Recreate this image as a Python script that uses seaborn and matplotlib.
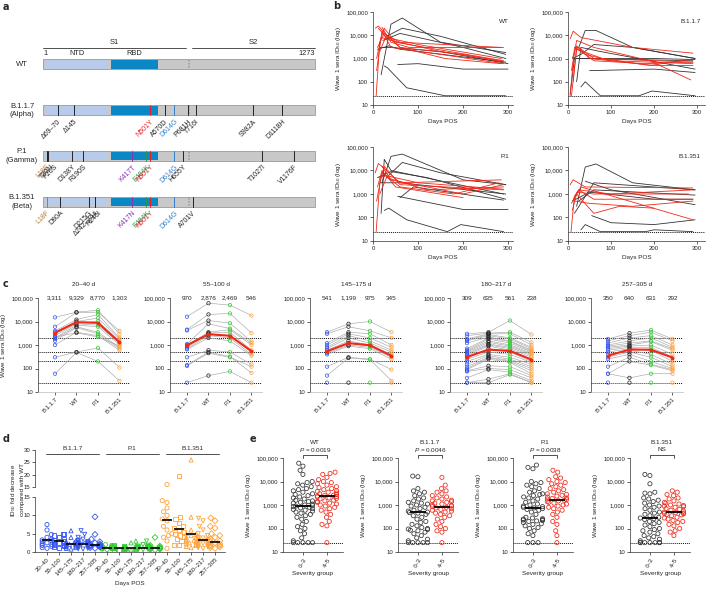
import numpy as np
import pandas as pd
import matplotlib
matplotlib.use("Agg")
import matplotlib.pyplot as plt
from matplotlib.patches import Rectangle
from matplotlib.ticker import NullLocator
import seaborn as sns

# ---------------- data ----------------
# panel a: spike protein and variant mutations
spike_len = 1273
ntd_span = (14, 305)
rbd_span = (319, 541)
s1s2_site = 685
strain_names = ['WT', 'B.1.1.7\n(Alpha)', 'P.1\n(Gamma)', 'B.1.351\n(Beta)']
mut_b117_pos = [69.5, 144, 501, 570, 614, 681, 716, 982, 1118]
mut_b117_lab = ['Δ69–70', 'Δ145', 'N501Y', 'A570D', 'D614G', 'P681H', 'T716I', 'S982A', 'D1118H']
mut_p1_pos = [18, 20, 26, 138, 190, 417, 484, 501, 614, 655, 1027, 1176]
mut_p1_lab = ['L18F', 'T20N', 'P26S', 'D138Y', 'R190S', 'K417T', 'E484K', 'N501Y', 'D614G', 'H655Y',
              'T1027I', 'V1176F']
mut_b1351_pos = [18, 80, 215, 243, 246, 417, 484, 501, 614, 701]
mut_b1351_lab = ['L18F', 'D80A', 'D215G', 'Δ242–244', 'R246I', 'K417N', 'E484K', 'N501Y', 'D614G', 'A701V']

# panel b: longitudinal titres (days POS, ID50); black = mild, red = severe
b_wt_mild = [
    ([18, 40, 65, 150, 295], [200, 30000, 55000, 5000, 1800]),
    ([30, 65, 150, 295], [9000, 20000, 9000, 1500]),
    ([22, 60, 200, 295], [6000, 12000, 3000, 1000]),
    ([10, 35, 60, 295], [2500, 3500, 2500, 700]),
    ([55, 100, 200, 300], [550, 600, 350, 350]),
    ([25, 32, 75, 160, 295], [480, 400, 55, 25, 25]),
    ([15, 40, 150, 300], [3000, 3000, 2000, 600]),
]
b_wt_severe = [
    ([5, 12, 30, 60, 285], [20000, 25000, 10000, 5000, 3000]),
    ([7, 15, 25, 50, 290], [25, 5000, 20000, 5000, 800]),
    ([8, 20, 40, 150, 290], [300, 15000, 3000, 1500, 600]),
    ([10, 25, 60, 200, 290], [3000, 12000, 3000, 1500, 700]),
    ([12, 30, 100, 285], [20000, 8000, 4000, 1000]),
    ([8, 18, 40, 150, 285], [1000, 8000, 6000, 2000, 800]),
    ([20, 40, 80, 290], [22000, 5000, 3000, 3000]),
    ([15, 30, 60, 160, 285], [2000, 10000, 3000, 1000, 600]),
]
b_b117_mild = [
    ([25, 40, 65, 150, 295], [3000, 16000, 16000, 3000, 1000]),
    ([30, 40, 75, 165, 195, 295], [60, 100, 25, 25, 40, 25]),
    ([10, 30, 60, 150, 295], [1000, 1500, 4000, 3000, 1000]),
    ([15, 60, 200, 295], [1000, 1000, 1000, 900]),
    ([50, 200, 295], [300, 350, 250]),
    ([20, 30, 75, 295], [100, 3000, 2000, 350]),
    ([5, 15, 30, 290], [30, 1000, 1000, 800]),
]
b_b117_severe = [
    ([5, 12, 30, 150, 290], [7000, 15000, 8000, 3000, 1700]),
    ([5, 15, 25, 60, 290], [25, 3000, 3000, 1000, 700]),
    ([8, 20, 60, 190, 285], [300, 6000, 3000, 800, 120]),
    ([10, 20, 50, 200, 290], [1000, 3500, 1000, 500, 500]),
    ([12, 20, 60, 180, 290], [100, 3000, 800, 600, 700]),
    ([15, 40, 100, 290], [3000, 1500, 800, 600]),
    ([8, 20, 80, 190, 280], [25, 2500, 1000, 500, 900]),
]
b_p1_mild = [
    ([20, 40, 65, 200, 295], [3000, 40000, 50000, 4000, 2500]),
    ([30, 65, 150, 295], [5000, 22000, 8000, 2500]),
    ([18, 25, 40, 290], [150, 30000, 10000, 1000]),
    ([10, 40, 120, 295], [5000, 9000, 5000, 600]),
    ([55, 200, 300], [800, 220, 220]),
    ([25, 35, 75, 165, 195, 290], [200, 250, 80, 25, 50, 25]),
    ([60, 90, 290], [700, 2000, 550]),
    ([15, 60, 295], [3000, 3000, 1000]),
]
b_p1_severe = [
    ([5, 12, 30, 60, 285], [8000, 20000, 10000, 3000, 4000]),
    ([7, 15, 25, 60, 290], [25, 3000, 15000, 2500, 1500]),
    ([10, 20, 50, 200], [2000, 10000, 2000, 700]),
    ([12, 30, 100, 290], [5000, 6000, 3000, 1600]),
    ([15, 30, 120, 290], [1000, 5000, 1500, 2000]),
    ([8, 20, 60, 180, 280], [500, 8000, 2000, 1000, 3000]),
    ([20, 40, 200, 290], [15000, 4000, 1000, 2500]),
]
b_b1351_mild = [
    ([20, 40, 65, 150, 295], [300, 14000, 19000, 3000, 1500]),
    ([30, 40, 75, 180, 200, 290], [30, 50, 25, 25, 30, 25]),
    ([15, 60, 295], [150, 3000, 1500]),
    ([40, 100, 295], [3500, 1500, 350]),
    ([55, 100, 200, 295], [120, 60, 50, 80]),
    ([25, 60, 295], [500, 1500, 900]),
    ([10, 50, 200, 290], [500, 1200, 600, 600]),
]
b_b1351_severe = [
    ([5, 12, 40, 290], [2500, 4000, 2000, 1800]),
    ([7, 15, 25, 60, 290], [25, 800, 1500, 600, 600]),
    ([8, 30, 290], [400, 2000, 80]),
    ([10, 20, 60, 120, 200], [200, 1000, 150, 300, 250]),
    ([12, 25, 100, 290], [600, 1500, 1000, 1500]),
    ([15, 50, 150, 290], [500, 400, 300, 500]),
    ([20, 60, 280], [1200, 1000, 1000]),
]

# panel c: paired titres per participant [B.1.1.7, WT, P.1, B.1.351]
c_variants = ['B.1.1.7', 'WT', 'P.1', 'B.1.351']
c_titles = ['20–40 d', '55–100 d', '145–175 d', '180–217 d', '257–305 d']
c_gmt = [[3311, 9329, 8770, 1303], [970, 2876, 2469, 546], [541, 1199, 975, 345],
         [309, 635, 561, 238], [350, 640, 631, 292]]
c_d20 = [
    [15000, 25000, 30000, 3000], [6000, 24000, 25000, 4000], [4000, 12000, 20000, 2000],
    [3500, 10000, 14000, 1800], [3000, 9000, 10000, 1500], [2500, 8000, 7000, 1200],
    [2000, 7000, 6000, 1000], [1800, 6000, 3500, 800], [1500, 5500, 3000, 700],
    [1000, 3500, 2500, 600], [2200, 3300, 2200, 900], [300, 500, 750, 110], [60, 480, 200, 30],
]
c_d55 = [
    [16000, 60000, 50000, 18000], [4500, 20000, 22000, 3200], [4200, 11000, 8500, 1400],
    [1100, 8000, 5000, 1200], [1000, 3500, 4500, 1000], [900, 3200, 3500, 600],
    [800, 3000, 2500, 500], [700, 2500, 2000, 400], [650, 2000, 1500, 350],
    [300, 600, 500, 150], [130, 450, 300, 120], [25, 50, 75, 25], [140, 500, 320, 65],
]
c_d145 = [
    [3500, 8000, 10000, 3500], [3000, 6000, 4000, 2000], [1200, 3500, 3000, 1000],
    [1000, 3000, 2000, 800], [800, 2500, 1500, 600], [700, 2000, 1200, 500],
    [600, 1500, 1000, 400], [500, 1200, 900, 350], [450, 1000, 800, 300],
    [400, 900, 700, 250], [120, 300, 250, 90], [50, 280, 240, 30], [25, 25, 25, 25],
]
c_d180 = [
    [3000, 3500, 11000, 2800], [2500, 3200, 3500, 1300], [1800, 3000, 3000, 1000],
    [1600, 2800, 2000, 800], [1500, 2500, 1800, 700], [1200, 2200, 1500, 600],
    [700, 2000, 1400, 550], [600, 1800, 1200, 500], [550, 1500, 1000, 450],
    [500, 1300, 900, 400], [450, 1100, 800, 350], [400, 1000, 700, 300],
    [350, 900, 600, 250], [300, 700, 500, 200], [250, 500, 400, 180],
    [200, 400, 300, 150], [150, 350, 250, 120], [120, 300, 220, 100],
    [100, 280, 200, 80], [90, 250, 180, 60], [80, 130, 120, 50], [75, 100, 90, 40],
    [40, 90, 70, 30], [25, 35, 60, 25], [25, 25, 55, 25],
]
c_d257 = [
    [1800, 3200, 4300, 1800], [1500, 2500, 3500, 1500], [1200, 2000, 2500, 1000],
    [1000, 1500, 2000, 800], [900, 1200, 1500, 700], [800, 1000, 1400, 600],
    [700, 900, 1000, 400], [600, 800, 800, 300], [500, 700, 600, 200],
    [400, 600, 400, 150], [300, 500, 300, 120], [250, 400, 200, 100],
    [120, 300, 150, 90], [60, 200, 140, 80], [60, 40, 60, 60], [25, 25, 25, 25],
]

# panel d: fold decrease vs WT
d_days = ['20–40', '55–100', '145–175', '180–217', '257–305']
d_b117 = [
    [7.5, 6, 4.8, 4, 3.5, 3.3, 3, 2.8, 2.5, 2.2, 2, 1.8, 1.5, 1.2, 1],
    [5, 4.8, 4.5, 4, 3.5, 3.2, 3, 2.8, 2.6, 2.4, 2.2, 2, 1.8, 1.6, 1.4, 1.2],
    [5.8, 4, 3, 2.8, 2.6, 2.4, 2.3, 2.2, 2.1, 2, 1.8, 1.6, 1.4, 1.2, 1, 0.8],
    [5.8, 4.8, 4, 3.5, 3.2, 3, 2.8, 2.7, 2.6, 2.5, 2.4, 2.3, 2.2, 2.1, 2, 1.8, 1.6, 1.5,
     1.4, 1.2, 1, 0.9, 0.8],
    [9.6, 4.8, 3.5, 2.8, 2.5, 2.2, 2, 1.9, 1.8, 1.7, 1.6, 1.5, 1.4, 1.2, 1],
]
d_p1 = [
    [2, 1.8, 1.6, 1.5, 1.4, 1.3, 1.3, 1.2, 1.2, 1.1, 1.0, 1.0, 0.9, 0.8, 0.7],
    [1.8, 1.6, 1.5, 1.4, 1.3, 1.3, 1.2, 1.2, 1.1, 1.1, 1.0, 1.0, 0.9, 0.8, 0.7, 0.6],
    [3, 2.5, 1.8, 1.5, 1.3, 1.2, 1.2, 1.1, 1.1, 1.0, 0.9, 0.8, 0.7, 0.6],
    [3, 2, 1.8, 1.6, 1.5, 1.4, 1.4, 1.3, 1.3, 1.2, 1.2, 1.1, 1.1, 1.0, 1.0, 0.9, 0.9,
     0.8, 0.7, 0.6],
    [4, 1.8, 1.6, 1.4, 1.3, 1.2, 1.1, 1.1, 1.0, 1.0, 0.9, 0.8, 0.7, 0.6],
]
d_b1351 = [
    [16, 14, 13.5, 12, 11, 10, 9, 8.5, 7, 6, 5, 4.5, 4, 3, 1],
    [19.5, 9.5, 9, 8, 7, 6.5, 6, 5.5, 5, 4.5, 4, 3.5, 3, 2, 1.8],
    [26, 9.5, 6, 5, 4.8, 4.5, 4, 3.8, 3.5, 3.2, 3, 2.8, 2.5, 2.2, 2, 1.8, 1.5, 1.2],
    [9.2, 8.5, 7, 6, 5, 4.5, 4, 3.8, 3.5, 3.3, 3.2, 3.1, 3, 2.8, 2.6, 2.4, 2.2, 2, 1.8,
     1.6, 1.4, 1.2, 1],
    [9.3, 8.5, 7, 6.5, 5, 4.5, 4, 3.5, 3, 2.8, 2.5, 2.2, 2, 1.8, 1.6, 1.4, 1.2, 1],
]
d_med_b117 = [3.3, 3.0, 2.3, 2.3, 2.0]
d_med_p1 = [1.2, 1.1, 1.1, 1.1, 1.1]
d_med_b1351 = [8.8, 6.2, 4.8, 3.2, 2.8]

# panel e: titres by severity group
e_titles = ['WT', 'B.1.1.7', 'P.1', 'B.1.351']
e_pvals = ['0.0019', '0.0046', '0.0038', 'NS']
e_mean_03 = [900, 480, 750, 280]
e_mean_45 = [2500, 830, 1700, 500]
e_wt_03 = [60000, 45000, 30000, 20000, 10000, 9000, 8000, 7000, 6000, 5000, 4500, 4000, 3500,
           3000, 2800, 2500, 2200, 2000, 1800, 1600, 1500, 1400, 1300, 1200, 1100, 1000, 950,
           900, 850, 800, 750, 700, 650, 600, 550, 500, 450, 400, 350, 300, 250, 200, 150, 120,
           100, 80, 60, 40, 30, 25, 25, 25, 25, 25]
e_wt_45 = [25000, 22000, 20000, 15000, 12000, 10000, 9000, 8000, 7000, 6000, 5500, 5000, 4500,
           4000, 3800, 3500, 3200, 3000, 2800, 2600, 2500, 2400, 2300, 2200, 2000, 1900, 1800,
           1600, 1500, 1400, 1300, 1200, 1100, 1000, 900, 800, 700, 600, 500, 400, 300, 200,
           150, 130, 25]
e_b117_03 = [17000, 16000, 5000, 4000, 3500, 3000, 2500, 2000, 1800, 1500, 1300, 1200, 1100,
             1000, 900, 800, 700, 600, 550, 500, 480, 450, 400, 350, 300, 250, 200, 180, 150,
             130, 110, 100, 95, 90, 85, 80, 70, 60, 50, 40, 35, 30, 25, 25, 25, 25, 25]
e_b117_45 = [15000, 7000, 5000, 4000, 3500, 3000, 2500, 2200, 2000, 1800, 1600, 1500, 1400,
             1300, 1200, 1100, 1000, 950, 900, 850, 800, 750, 700, 650, 600, 550, 500, 450,
             400, 350, 300, 250, 200, 150, 120, 100, 80, 70, 25]
e_p1_03 = [50000, 40000, 35000, 10000, 9000, 8000, 7000, 6000, 5000, 4000, 3500, 3000, 2800,
           2500, 2200, 2000, 1800, 1500, 1300, 1100, 1000, 900, 850, 800, 750, 700, 650, 600,
           500, 400, 300, 280, 260, 250, 240, 230, 220, 210, 200, 180, 160, 150, 130, 110, 100,
           80, 60, 50, 25, 25, 25]
e_p1_45 = [30000, 25000, 16000, 14000, 12000, 10000, 9000, 8000, 7000, 6000, 5000, 4500, 4000,
           3500, 3000, 2800, 2600, 2400, 2200, 2000, 1900, 1800, 1700, 1600, 1500, 1400, 1300,
           1200, 1100, 1000, 900, 800, 700, 600, 500, 400, 300, 200, 150, 80, 50, 25]
e_b1351_03 = [20000, 18000, 8000, 3500, 3200, 3000, 2000, 1800, 1600, 1400, 1200, 1000, 900,
              800, 700, 600, 500, 450, 400, 350, 300, 280, 260, 240, 200, 180, 160, 140, 120,
              100, 90, 80, 70, 60, 50, 45, 40, 35, 30, 25, 25, 25, 25, 25, 25, 25]
e_b1351_45 = [4000, 3500, 2800, 2500, 2000, 1800, 1500, 1300, 1200, 1100, 1000, 950, 900, 850,
              800, 700, 650, 600, 550, 500, 480, 460, 440, 420, 400, 380, 350, 300, 280, 250,
              220, 200, 180, 150, 130, 100, 80, 70, 50]

# ---------------- style ----------------
sns.set_style('ticks')
plt.rcParams['font.family'] = ['Liberation Sans', 'DejaVu Sans']
plt.rcParams['font.size'] = 4.5
plt.rcParams['mathtext.fontset'] = 'custom'
plt.rcParams['mathtext.rm'] = 'Liberation Sans'
plt.rcParams['mathtext.it'] = 'Liberation Sans:italic'
plt.rcParams['axes.linewidth'] = 0.5

BLUE, GREEN, ORANGE, RED, DARK = '#3355ee', '#33cc33', '#ffa33a', '#f02818', '#222222'
FS = 4.3
W, H = 707, 594
fig = plt.figure(figsize=(W / 100, H / 100), dpi=100)


def px_axes(x0, y0, x1, y1):
    return fig.add_axes([x0 / W, 1 - y1 / H, (x1 - x0) / W, (y1 - y0) / H])


def style(ax):
    for s in ['top', 'right']:
        ax.spines[s].set_visible(False)
    for s in ['left', 'bottom']:
        ax.spines[s].set_linewidth(0.5)
        ax.spines[s].set_color('#333333')
    ax.tick_params(length=2, width=0.5, pad=1.5, labelsize=FS, colors='#222222')


def log_axis(ax):
    ax.set_yscale('log')
    ax.set_ylim(10, 1e5)
    ax.set_yticks([10, 100, 1e3, 1e4, 1e5])
    ax.set_yticklabels(['10', '100', '1,000', '10,000', '100,000'])
    ax.yaxis.set_minor_locator(NullLocator())


def hollow(ax, start, lw=0.5):
    for coll in ax.collections[start:]:
        fc = coll.get_facecolor()
        if len(fc):
            coll.set_edgecolor(fc)
            coll.set_facecolor('none')
            coll.set_linewidth(lw)


YLAB = 'Wave 1 sera ID$_{50}$ (log)'

# ---------------- panel a ----------------
PX_PER_AA = 272 / 1272
FS_A = 5.0


def px2aa(p):
    return 1 + (p - 43) / PX_PER_AA


axa = px_axes(0, 30, 330, 235)
axa.set_xlim(px2aa(0), px2aa(330))
axa.set_ylim(235, 30)
axa.axis('off')


def mut_color(lab):
    if 'N501Y' in lab:
        return '#e8202a'
    if 'D614G' in lab:
        return '#2f80d0'
    if 'L18F' in lab:
        return '#b87530'
    if 'K417' in lab:
        return '#8a35b5'
    if 'E484K' in lab:
        return '#229a50'
    return '#222222'


def draw_spike(y):
    axa.add_patch(Rectangle((1, y - 5), spike_len - 1, 10, fc='#c8c8c8', ec='#9a9a9a', lw=0.6))
    axa.add_patch(Rectangle((ntd_span[0], y - 4.2), ntd_span[1] - ntd_span[0], 8.4, fc='#b9cbea', ec='none'))
    axa.add_patch(Rectangle((rbd_span[0], y - 4.2), rbd_span[1] - rbd_span[0], 8.4, fc='#0b88c3', ec='none'))
    axa.plot([s1s2_site, s1s2_site], [y - 4.2, y + 4.2], color='#a0a0a0', lw=1.2, ls=(0, (1, 0.8)))


row_y = [64.5, 110.5, 156, 202]
muts = [([], []), (mut_b117_pos, mut_b117_lab), (mut_p1_pos, mut_p1_lab), (mut_b1351_pos, mut_b1351_lab)]
for y, name, (pos, labs) in zip(row_y, strain_names, muts):
    draw_spike(y)
    axa.text(px2aa(22), y, name, ha='center', va='center', fontsize=5.5, linespacing=1.3)
    prev = -1e9
    for p, lab in zip(pos, labs):
        c = mut_color(lab)
        axa.plot([p, p], [y - 5, y + 5], color=c, lw=0.7)
        xl = max(p, prev + 18)
        prev = xl
        axa.text(xl, y + 7.5, lab, rotation=45, ha='right', va='top', rotation_mode='anchor',
                 fontsize=FS_A, color=c)

# domain annotation
axa.plot([1, 672], [48, 48], color='#333333', lw=0.6)
axa.plot([700, spike_len], [48, 48], color='#333333', lw=0.6)
axa.text(336, 42.5, 'S1', ha='center', va='center', fontsize=5.5)
axa.text(986, 42.5, 'S2', ha='center', va='center', fontsize=5.5)
axa.text(1, 54, '1', ha='left', va='center', fontsize=5.3)
axa.text(160, 54, 'NTD', ha='center', va='center', fontsize=5.3)
axa.text(430, 54, 'RBD', ha='center', va='center', fontsize=5.3)
axa.text(spike_len, 54, '1273', ha='right', va='center', fontsize=5.3)


# ---------------- panel b ----------------
def lines_df(mild, severe):
    rows = []
    for grp, lines in [('mild', mild), ('severe', severe)]:
        for i, (days, vals) in enumerate(lines):
            for d, v in zip(days, vals):
                rows.append((f'{grp}{i}', grp, d, v))
    return pd.DataFrame(rows, columns=['id', 'grp', 'day', 'titer'])


b_sets = [('WT', b_wt_mild, b_wt_severe, (373, 12, 513, 105), 311),
          ('B.1.1.7', b_b117_mild, b_b117_severe, (568, 12, 705, 105), 318),
          ('P.1', b_p1_mild, b_p1_severe, (373, 147, 513, 241), 311),
          ('B.1.351', b_b1351_mild, b_b1351_severe, (568, 147, 705, 241), 318)]
for name, mild, severe, box, xmax in b_sets:
    ax = px_axes(*box)
    log_axis(ax)
    df = lines_df(mild, severe)
    sns.lineplot(data=df, x='day', y='titer', units='id', estimator=None, hue='grp',
                 palette={'mild': '#333333', 'severe': RED}, lw=0.6, legend=False, ax=ax)
    ax.axhline(25, color='#111111', lw=0.7, ls=(0, (1, 1)))
    ax.set_xlim(0, xmax)
    ax.set_xticks([0, 100, 200, 300])
    ax.set_xlabel('Days POS', fontsize=4.6, labelpad=3)
    ax.set_ylabel(YLAB, fontsize=4.6, labelpad=2)
    ax.text(0.97, 0.9, name, transform=ax.transAxes, ha='right', va='center', fontsize=4.6)
    style(ax)

# ---------------- panel c ----------------
c_sets = [c_d20, c_d55, c_d145, c_d180, c_d257]
c_lefts = [38, 170, 310, 450, 591]
c_colors = [BLUE, DARK, GREEN, ORANGE]
for k, (rows, left) in enumerate(zip(c_sets, c_lefts)):
    ax = px_axes(left, 298, left + 92, 392)
    log_axis(ax)
    recs = []
    for i, r in enumerate(rows):
        for j, v in enumerate(r):
            recs.append((i, j, c_variants[j], v))
    dfc = pd.DataFrame(recs, columns=['id', 'x', 'variant', 'titer'])
    for lv in [2000, 500, 200, 25]:
        ax.axhline(lv, color='#111111', lw=0.7, ls=(0, (1, 1)), zorder=1)
    sns.lineplot(data=dfc, x='x', y='titer', units='id', estimator=None, color='#a8a8a8',
                 lw=0.45, ax=ax, zorder=2)
    n0 = len(ax.collections)
    sns.scatterplot(data=dfc, x='x', y='titer', hue='variant', palette=dict(zip(c_variants, c_colors)),
                    s=6, ax=ax, legend=False, zorder=3)
    hollow(ax, n0)
    sns.lineplot(x=[0, 1, 2, 3], y=c_gmt[k], color=RED, lw=1.5, marker='o', markersize=2.8,
                 markeredgewidth=0, ax=ax, zorder=4)
    for j, v in enumerate(c_gmt[k]):
        ax.text(j, 1e5, f'{v:,}', ha='center', va='center', fontsize=4.6)
    ax.text(0.5, 1 + 13 / 94, c_titles[k], transform=ax.transAxes, ha='center', va='center',
            fontsize=4.6)
    ax.set_xlim(-0.79, 3.49)
    ax.set_xticks(range(4))
    ax.set_xticklabels(c_variants, rotation=45, ha='right', rotation_mode='anchor')
    ax.set_xlabel('')
    ax.set_ylabel(YLAB if k == 0 else '', fontsize=4.6, labelpad=2)
    style(ax)
    ax.spines['bottom'].set_color('#bbbbbb')

# ---------------- panel d ----------------
d_groups = [('B.1.1.7', d_b117, BLUE), ('P.1', d_p1, GREEN), ('B.1.351', d_b1351, ORANGE)]
d_markers = ['o', 's', '^', 'v', 'D']
recs = []
order = []
for g, sets, _ in d_groups:
    for di, vals in enumerate(sets):
        key = f'{g}|{d_days[di]}'
        order.append(key)
        for v in vals:
            recs.append((key, g, di, v))
dfd = pd.DataFrame(recs, columns=['key', 'variant', 'day', 'fold'])
pal_d = {g: c for g, _, c in d_groups}

axd_lo = px_axes(35, 497, 225, 552)
axd_hi = px_axes(35, 450, 225, 487)
for ax, lo, hi in [(axd_lo, 0, 15), (axd_hi, 15, 30)]:
    ax.set_ylim(lo, hi)
    sub = dfd[(dfd.fold <= 15)] if lo == 0 else dfd[dfd.fold > 15]
    for di, m in enumerate(d_markers):
        part = sub[sub.day == di]
        if len(part) == 0:
            continue
        n0 = len(ax.collections)
        sns.swarmplot(data=part, x='key', y='fold', order=order, hue='variant', palette=pal_d,
                      marker=m, size=3.0, ax=ax, legend=False, warn_thresh=1)
        hollow(ax, n0, lw=0.6)
    ax.set_xlim(-1, 14.83)
    ax.set_ylim(lo, hi)
    ax.set_yticks([lo, lo + 5, lo + 10, lo + 15])
    ax.set_xlabel('')
    ax.set_ylabel('')
    style(ax)
meds = d_med_b117 + d_med_p1 + d_med_b1351
axd_lo.hlines(meds, np.arange(15) - 0.4, np.arange(15) + 0.4, color='black', lw=1.2, zorder=5)
axd_lo.set_xticks(range(15))
axd_lo.set_xticklabels(d_days * 3, rotation=45, ha='right', rotation_mode='anchor')
axd_lo.set_xlabel('Days POS', fontsize=4.6, labelpad=3)
axd_hi.spines['bottom'].set_visible(False)
axd_hi.set_xticks([])
for gi, (g, _, _) in enumerate(d_groups):
    x0, x1 = gi * 5 - 0.1, gi * 5 + 4.3
    axd_hi.plot([x0, x1], [28.4, 28.4], color='#333333', lw=0.6, clip_on=False)
    axd_hi.text((x0 + x1) / 2, 30.8, g, ha='center', va='center', fontsize=4.6, clip_on=False)
fig.text(17 / W, 1 - 490 / H, 'ID$_{50}$ fold decrease\ncompared with WT', rotation=90,
         ha='center', va='center', fontsize=4.6, linespacing=1.3)

# ---------------- panel e ----------------
e_sets = [(e_wt_03, e_wt_45), (e_b117_03, e_b117_45), (e_p1_03, e_p1_45), (e_b1351_03, e_b1351_45)]
e_lefts = [283, 398, 513, 630]
for k, ((g03, g45), left) in enumerate(zip(e_sets, e_lefts)):
    ax = px_axes(left, 458, left + 60, 552)
    log_axis(ax)
    dfe = pd.DataFrame({'grp': ['0–3'] * len(g03) + ['4–5'] * len(g45), 'titer': g03 + g45})
    ax.axhline(25, color='#111111', lw=0.7, ls=(0, (1, 1)), zorder=1)
    n0 = len(ax.collections)
    sns.swarmplot(data=dfe, x='grp', y='titer', order=['0–3', '4–5'], hue='grp',
                  palette={'0–3': '#333333', '4–5': RED}, size=3.0, ax=ax, legend=False,
                  warn_thresh=1)
    hollow(ax, n0, lw=0.55)
    log_axis(ax)
    ax.hlines([e_mean_03[k], e_mean_45[k]], [-0.35, 0.65], [0.35, 1.35], color='black', lw=1.3,
              zorder=5)
    ax.set_xlim(-0.83, 1.67)
    ax.set_xticks([0, 1])
    ax.set_xticklabels(['0–3', '4–5'], rotation=60, ha='right', rotation_mode='anchor')
    ax.set_xlabel('Severity group', fontsize=4.6, labelpad=2)
    ax.set_ylabel(YLAB, fontsize=4.6, labelpad=2)
    tr = ax.get_xaxis_transform()
    ax.plot([0, 0, 1, 1], [1.0, 1.035, 1.035, 1.0], color='#333333', lw=0.6, transform=tr,
            clip_on=False)
    ptxt = 'NS' if e_pvals[k] == 'NS' else f'$\\it{{P}}$ = {e_pvals[k]}'
    ax.text(0.5, 1.09, ptxt, transform=tr, ha='center', va='center', fontsize=4.6)
    ax.text(0.5, 1.17, e_titles[k], transform=tr, ha='center', va='center', fontsize=4.6)
    style(ax)

# ---------------- panel letters ----------------
for lab, x, y in [('a', 3, 7), ('b', 333, 6), ('c', 3, 284), ('d', 3, 439), ('e', 250, 439)]:
    fig.text(x / W, 1 - y / H, lab, fontsize=7, fontweight='bold', ha='left', va='center',
             family=['DejaVu Sans'])

fig.savefig('out.png', dpi=100)
